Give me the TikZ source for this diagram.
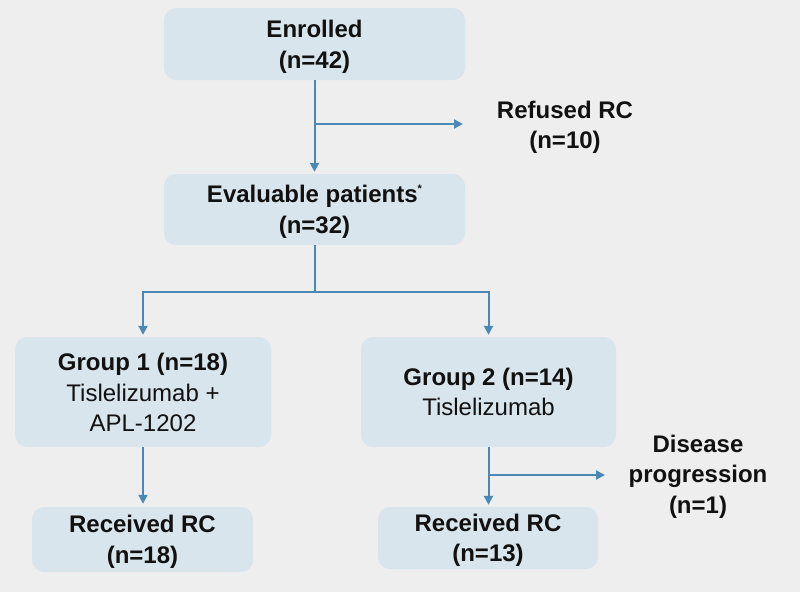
\documentclass[tikz,border=0pt]{standalone}
\usepackage{fontspec}
\setmainfont{Liberation Sans}
\usetikzlibrary{arrows.meta}
\definecolor{bgc}{HTML}{EEEEEE}
\definecolor{boxc}{HTML}{D9E5EC}
\definecolor{linec}{HTML}{4A89B5}
\definecolor{txtc}{HTML}{111111}
\newcommand{\topstrut}[1]{\rule{0pt}{#1}}
\begin{document}
\begin{tikzpicture}[x=1pt,y=-1pt,
  box/.style={draw=none,fill=boxc,rounded corners=12pt,inner sep=0pt,align=center,
    text=txtc,font=\fontsize{24}{30.5}\selectfont\bfseries},
  freetext/.style={inner sep=0pt,align=center,text=txtc,font=\fontsize{24}{30.5}\selectfont\bfseries},
  conn/.style={draw=linec,line width=2pt},
  arr/.style={conn,-{Triangle[length=9pt,width=9pt]},shorten >=2pt}]
\fill[bgc] (0,0) rectangle (800,592);
\useasboundingbox (0,0) rectangle (800,592);

\node[box,minimum width=301pt,minimum height=72pt] (enr) at (314.5,44)
  {\topstrut{23pt}Enrolled\\(n=42)};
\node[box,minimum width=301pt,minimum height=71pt] (evl) at (314.5,209.5)
  {\topstrut{22pt}Evaluable patients\raisebox{10pt}{\fontsize{11}{11}\selectfont *}\\(n=32)};
\node[box,minimum width=256pt,minimum height=110pt] (g1) at (143,392)
  {\topstrut{19pt}Group 1 (n=18)\\\mdseries Tislelizumab +\\\mdseries APL-1202};
\node[box,minimum width=255pt,minimum height=110pt] (g2) at (488.5,392)
  {Group 2 (n=14)\\\mdseries Tislelizumab};
\node[box,minimum width=221pt,minimum height=65pt] (r1) at (142.5,539.5)
  {\topstrut{22pt}Received RC\\(n=18)};
\node[box,minimum width=220pt,minimum height=62pt] (r2) at (488,538)
  {\topstrut{22pt}Received RC\\(n=13)};
\node[freetext] (ref) at (565,127.5) {Refused RC\\(n=10)};
\node[freetext] (dis) at (698,476.5) {Disease\\progression\\(n=1)};

% Enrolled -> Evaluable, with branch to Refused
\draw[arr] (enr.south) -- (evl.north);
\coordinate (b1) at (314.5,124);
\coordinate (b1e) at (465,124);
\draw[arr] (b1) -- (b1e);

% Evaluable -> groups
\coordinate (split) at (314.5,291.5);
\draw[conn] (evl.south) -- (split);
\draw[arr] (split) -| (g1.north);
\draw[arr] (split) -| (g2.north);

% Groups -> Received RC
\draw[arr,shorten >=3pt] (g1.south) -- (g1.south |- r1.north);
\draw[arr] (g2.south) -- (g2.south |- r2.north);
\coordinate (b2) at (488.5,475);
\coordinate (b2e) at (607,475);
\draw[arr] (b2) -- (b2e);
\end{tikzpicture}
\end{document}
